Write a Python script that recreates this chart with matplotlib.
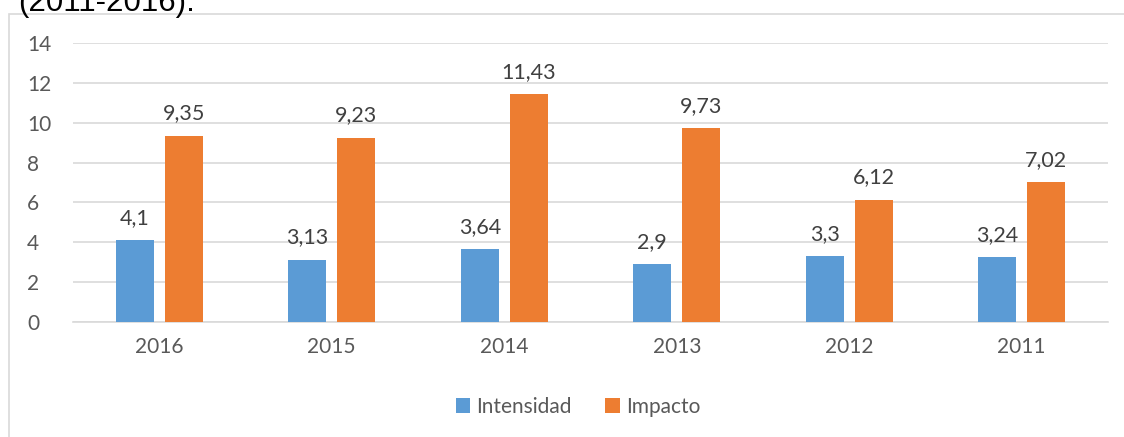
import matplotlib.pyplot as plt
import matplotlib.patches as mpatches
import numpy as np

years = ['2016', '2015', '2014', '2013', '2012', '2011']
intensidad = [4.1, 3.13, 3.64, 2.9, 3.3, 3.24]
impacto = [9.35, 9.23, 11.43, 9.73, 6.12, 7.02]

blue = '#5b9bd5'
orange = '#ed7d31'
txt = '#595959'
grid = '#d9d9d9'

plt.rcParams['font.family'] = ['Lato', 'DejaVu Sans']

fig = plt.figure(figsize=(11.24, 4.37), dpi=100)
ax = fig.add_axes([73 / 1124, 1 - 322 / 437, 1035 / 1124, 279 / 437])

x = np.arange(len(years))
w = 0.22
off = 0.142
b1 = ax.bar(x - off, intensidad, w, color=blue, label='Intensidad', zorder=3)
b2 = ax.bar(x + off, impacto, w, color=orange, label='Impacto', zorder=3)

def fmt(v):
    return ('%g' % v).replace('.', ',')

for bars, vals in ((b1, intensidad), (b2, impacto)):
    for b, v in zip(bars, vals):
        ax.annotate(fmt(v), (b.get_x() + b.get_width() / 2, v),
                    xytext=(0, 9), textcoords='offset points',
                    ha='center', va='bottom', fontsize=15.5, color='#404040')

ax.set_xlim(-0.5, len(years) - 0.5)
ax.set_ylim(0, 14)
ax.set_yticks(range(0, 15, 2))
ax.set_xticks(x)
ax.set_xticklabels(years)
ax.grid(axis='y', color=grid, linewidth=1.2, zorder=0)
for s in ('top', 'right', 'left'):
    ax.spines[s].set_visible(False)
ax.spines['bottom'].set_color(grid)
ax.spines['bottom'].set_linewidth(1.2)
ax.tick_params(axis='both', length=0, labelsize=15, colors=txt)
ax.tick_params(axis='y', pad=33)
ax.tick_params(axis='x', pad=11)
for lbl in ax.get_yticklabels():
    lbl.set_horizontalalignment('left')

leg = fig.legend(handles=[b1, b2], loc='center', bbox_to_anchor=(578 / 1124, 1 - 407 / 437),
                 ncol=2, frameon=False, fontsize=15, handlelength=0.7, handleheight=0.7,
                 handletextpad=0.3, columnspacing=1.6)
for t in leg.get_texts():
    t.set_color(txt)

# chart border
fig.patches.append(mpatches.Rectangle((9 / 1124, -0.1), 1.2, 1 - 14 / 437 + 0.1,
                                      transform=fig.transFigure, fill=False,
                                      edgecolor=grid, linewidth=1.2))

fig.text(18 / 1124, 1 - 11 / 437, '(2011-2016).', fontsize=22.5, family='Liberation Sans',
         color='black', ha='left', va='baseline')

fig.savefig('out.png', dpi=100)
